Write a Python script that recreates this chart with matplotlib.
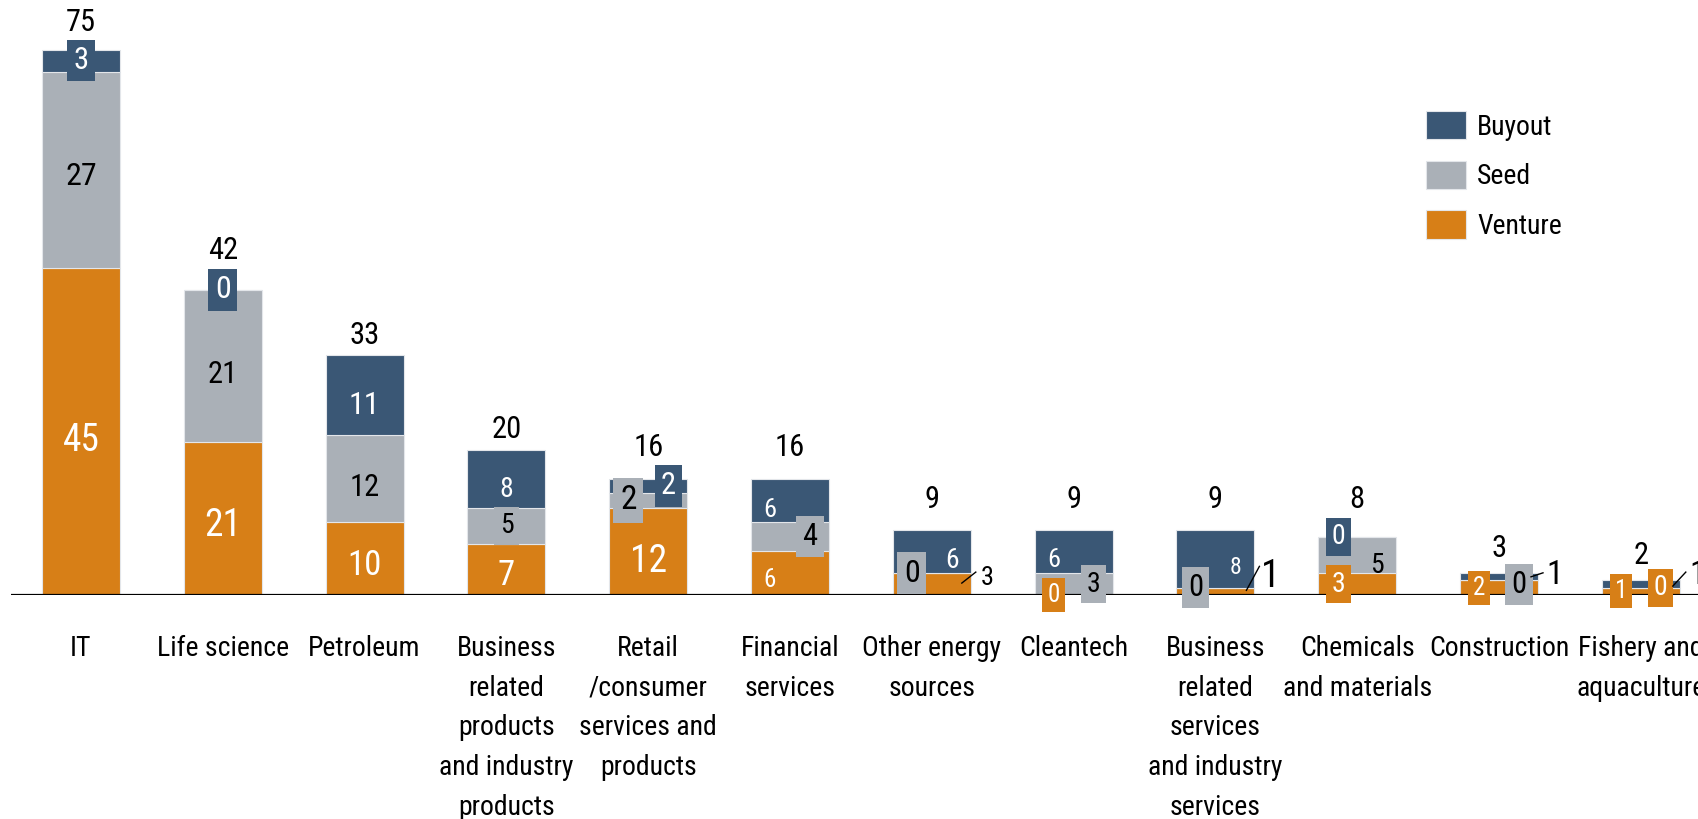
import numpy as np
import matplotlib
matplotlib.use('Agg')
import matplotlib.pyplot as plt

plt.rcParams['font.family'] = ['Roboto Condensed', 'Liberation Sans', 'DejaVu Sans']

categories = ['IT', 'Life science', 'Petroleum',
              'Business\nrelated\nproducts\nand industry\nproducts',
              'Retail\n/consumer\nservices and\nproducts',
              'Financial\nservices', 'Other energy\nsources', 'Cleantech',
              'Business\nrelated\nservices\nand industry\nservices',
              'Chemicals\nand materials', 'Construction', 'Fishery and\naquaculture']
venture = [45, 21, 10, 7, 12, 6, 3, 0, 1, 3, 2, 1]
seed = [27, 21, 12, 5, 2, 4, 0, 3, 0, 5, 0, 0]
buyout = [3, 0, 11, 8, 2, 6, 6, 6, 8, 0, 1, 1]
series_names = ['Venture', 'Seed', 'Buyout']

colors = {'Venture': '#D77F17', 'Seed': '#AAB0B7', 'Buyout': '#3A5775'}
text_col = {'Venture': 'white', 'Seed': 'black', 'Buyout': 'white'}

# label layout, in pixels relative to bar centre / segment middle:
# (category, series) -> (dx, dy, size, box colour or None)
label_layout = {
    (0, 'Venture'): (0, -9, 27, None), (0, 'Seed'): (0, -7, 23, None), (0, 'Buyout'): (0, 0, 22, 'Buyout'),
    (1, 'Venture'): (0, -7, 27, None), (1, 'Seed'): (0, -9, 22, None), (1, 'Buyout'): (0, 0, 23, 'Buyout'),
    (2, 'Venture'): (0, -7, 25, None), (2, 'Seed'): (0, -9, 22, None), (2, 'Buyout'): (0, -10, 23, None),
    (3, 'Venture'): (0, -6, 25, None), (3, 'Seed'): (0, 0, 20, 'Seed'), (3, 'Buyout'): (0, -11, 20, None),
    (4, 'Venture'): (0, -10, 27, None), (4, 'Seed'): (-20, 0, 24, 'Seed'), (4, 'Buyout'): (20, 0, 22, 'Buyout'),
    (5, 'Venture'): (-20, -7, 18, None), (5, 'Seed'): (20, 0, 22, 'Seed'), (5, 'Buyout'): (-20, -10, 19, None),
    (6, 'Seed'): (-20, 0, 23, 'Seed'), (6, 'Buyout'): (20, -9, 20, None),
    (7, 'Venture'): (-20, 0, 18, 'Venture'), (7, 'Seed'): (20, 0, 20, 'Seed'), (7, 'Buyout'): (-20, -9, 19, None),
    (8, 'Seed'): (-20, 0, 22, 'Seed'), (8, 'Buyout'): (20, -9, 17, None),
    (9, 'Venture'): (-19, 0, 20, 'Venture'), (9, 'Seed'): (20, -10, 20, None), (9, 'Buyout'): (-19, 0, 20, 'Buyout'),
    (10, 'Venture'): (-20, 0, 18, 'Venture'), (10, 'Seed'): (20, -4, 22, 'Seed'),
    (11, 'Venture'): (-20, 0, 18, 'Venture'), (11, 'Seed'): (20, 0, 20, 'Venture'),
}
# callouts with leader lines: (category, series) -> (text dx, dy, size, line start, line end)
callouts = {
    (6, 'Venture'): (55, 6, 19, (30, 1), (44, 12)),
    (8, 'Venture'): (55, 15, 28, (31, 1), (44, 25)),
    (10, 'Buyout'): (56, 2, 24, (32, 0), (44, 4)),
    (11, 'Buyout'): (57, 9, 24, (32, -2), (45, 12)),
}
total_offset = [27, 39, 20, 20, 31, 31, 30, 30, 30, 37, 25, 25]

W, H = 1698, 819
fig = plt.figure(figsize=(W / 100, H / 100), dpi=100)
ax = fig.add_axes([11 / W, (H - 595) / H, 1 - 11 / W, 595 / H])

x = np.arange(len(categories))
data = {'Venture': np.array(venture), 'Seed': np.array(seed), 'Buyout': np.array(buyout)}
bottom = np.zeros(len(categories))
bars = {}
for name in series_names:
    ax.bar(x, data[name], 0.55, bottom=bottom, color=colors[name],
           edgecolor='#e3e6ea', linewidth=0.8, label=name, zorder=2)
    bars[name] = bottom.copy()
    bottom = bottom + data[name]
totals = bottom

ax.set_xlim(-70 / 141.8, (W - 81) / 141.8)
ax.set_ylim(0, 595 / 7.27)
ax.axhline(0, color='black', lw=1.6, zorder=3)
for s in ax.spines.values():
    s.set_visible(False)
ax.set_yticks([])
ax.set_xticks(x)
ax.set_xticklabels(categories, fontsize=20, linespacing=1.6)
ax.tick_params(axis='x', length=0, pad=29)

fig.canvas.draw()


def px2data(xd, yd, dx, dy):
    px, py = ax.transData.transform((xd, yd))
    return ax.transData.inverted().transform((px + dx, py + dy))


for i in range(len(categories)):
    for name in series_names:
        mid = bars[name][i] + data[name][i] / 2
        val = str(data[name][i])
        if (i, name) in label_layout:
            dx, dy, size, box = label_layout[(i, name)]
            tx, ty = px2data(i, mid, dx, dy)
            kw = {}
            col = text_col[name]
            if box is not None:
                kw['bbox'] = dict(boxstyle='square,pad=0.2', fc=colors[box], ec='none')
                col = text_col[box]
            ax.text(tx, ty, val, ha='center', va='center', fontsize=size,
                    color=col, zorder=5, clip_on=False, **kw)
        elif (i, name) in callouts:
            dx, dy, size, p0, p1 = callouts[(i, name)]
            tx, ty = px2data(i, mid, dx, dy)
            ax.text(tx, ty, val, ha='center', va='center', fontsize=size,
                    color='black', zorder=5, clip_on=False)
            a = px2data(i, mid, *p0)
            b = px2data(i, mid, *p1)
            ax.plot([a[0], b[0]], [a[1], b[1]], color='black', lw=1, zorder=6,
                    clip_on=False)
    tx, ty = px2data(i, totals[i], 0, total_offset[i])
    ax.text(tx, ty, str(int(totals[i])), ha='center', va='center', fontsize=22,
            color='black', zorder=5, clip_on=False)

handles, labels = ax.get_legend_handles_labels()
ax.legend(handles[::-1], labels[::-1], loc='upper left',
          bbox_to_anchor=(1426 / W, 1 - 111 / H), bbox_transform=fig.transFigure,
          frameon=False, fontsize=20, handlelength=1.44, handleheight=1.2,
          labelspacing=0.72, handletextpad=0.4, borderpad=0, borderaxespad=0)

fig.savefig('out.png', dpi=100)
